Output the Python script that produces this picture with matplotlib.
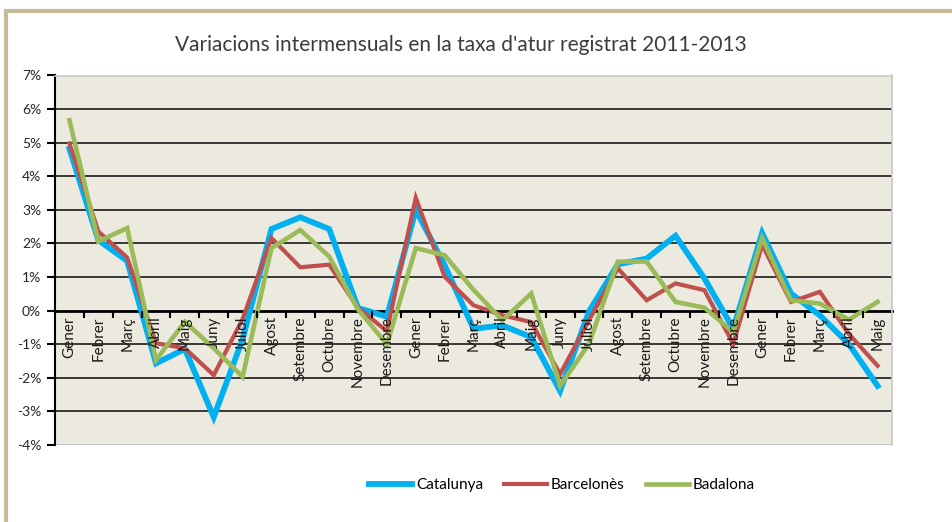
import matplotlib.pyplot as plt
from matplotlib.patches import Rectangle
from matplotlib.ticker import FixedLocator, FuncFormatter

plt.rcParams['font.family'] = ['Lato', 'DejaVu Sans']

# mesos (gener 2011 - maig 2013)
mesos_any = ['Gener', 'Febrer', 'Març', 'Abril', 'Maig', 'Juny', 'Juliol',
             'Agost', 'Setembre', 'Octubre', 'Novembre', 'Desembre']
mesos = mesos_any + mesos_any + mesos_any[:5]

catalunya = [4.82, 2.10, 1.48, -1.57, -1.14, -3.17, -0.85, 2.43, 2.78, 2.43,
             0.08, -0.18, 3.00, 1.35, -0.54, -0.44, -0.79, -2.39, -0.03, 1.38,
             1.55, 2.23, 0.96, -0.54, 2.31, 0.51, -0.14, -0.99, -2.24]
barcelones = [4.98, 2.36, 1.58, -0.97, -1.12, -1.92, -0.25, 2.16, 1.29, 1.37,
              0.08, -0.61, 3.36, 1.01, 0.16, -0.14, -0.34, -1.89, -0.29, 1.26,
              0.31, 0.81, 0.61, -0.99, 1.96, 0.26, 0.56, -0.69, -1.64]
badalona = [5.67, 2.06, 2.46, -1.47, -0.33, -1.12, -1.97, 1.86, 2.40, 1.61,
            0.03, -1.00, 1.86, 1.65, 0.62, -0.29, 0.51, -2.24, -0.99, 1.46,
            1.46, 0.26, 0.09, -0.64, 2.16, 0.31, 0.21, -0.27, 0.26]

fig = plt.figure(figsize=(9.52, 5.22), dpi=100)
fig.patch.set_facecolor('white')

# marc exterior
fig.patches.append(Rectangle((5.5 / 952, -0.2), 1.2, 1.2 - 10.5 / 522,
                             transform=fig.transFigure, fill=False,
                             edgecolor='#c6bd98', linewidth=3))

ax = fig.add_axes([55 / 952, 1 - 445 / 522, (892 - 55) / 952, (445 - 75.5) / 522])
ax.set_facecolor('#ece9df')

x = list(range(len(mesos)))
ax.plot(x, catalunya, color='#00b0f0', lw=4.2, label='Catalunya', solid_joinstyle='miter', zorder=3)
ax.plot(x, barcelones, color='#c0504d', lw=3.0, label='Barcelonès', solid_joinstyle='miter', zorder=4)
ax.plot(x, badalona, color='#9bbb59', lw=3.3, label='Badalona', solid_joinstyle='miter', zorder=5)

ax.set_xlim(-0.5, len(mesos) - 0.5)
ax.set_ylim(-4, 7)

# graella
for v in range(-3, 7):
    if v != 0:
        ax.axhline(v, color='#1a1a1a', lw=1.2, zorder=1)

ax.spines['bottom'].set_position(('data', 0))
ax.spines['bottom'].set_color('black')
ax.spines['bottom'].set_linewidth(2.0)
ax.spines['bottom'].set_zorder(2)
ax.spines['left'].set_color('black')
ax.spines['left'].set_linewidth(1.5)
for s in ['top', 'right']:
    ax.spines[s].set_color('#c8c8c8')
    ax.spines[s].set_linewidth(1.2)
# vora inferior del quadre
ax.axhline(-4, color='#c8c8c8', lw=1.5, zorder=1)

ax.set_yticks(range(-4, 8))
ax.yaxis.set_major_formatter(FuncFormatter(lambda v, p: f'{int(v)}%'))
ax.tick_params(axis='y', direction='out', length=6, width=1.5, labelsize=10,
               labelcolor='#262626', pad=4)

ax.set_xticks(x)
ax.set_xticklabels(mesos, rotation=90, fontsize=11, color='#1a1a1a')
ax.xaxis.set_minor_locator(FixedLocator([i + 0.5 for i in x[:-1]]))
ax.tick_params(axis='x', which='major', length=0, pad=4)
ax.tick_params(axis='x', which='minor', direction='out', length=5, width=1.5)
for lab in ax.get_xticklabels():
    lab.set_verticalalignment('top')
# etiquetes dels mesos per sobre de les línies
ax.xaxis.set_zorder(6)

fig.text(461 / 952, 1 - 45 / 522, "Variacions intermensuals en la taxa d'atur registrat 2011-2013",
         ha='center', va='center', fontsize=15, color='#3c3c3c')

fig.legend(loc='center', bbox_to_anchor=(562 / 952, 1 - 485 / 522), ncol=3, frameon=False,
           fontsize=11, handlelength=2.8, handletextpad=0.25, columnspacing=1.4)

plt.savefig('out.png', dpi=100)
